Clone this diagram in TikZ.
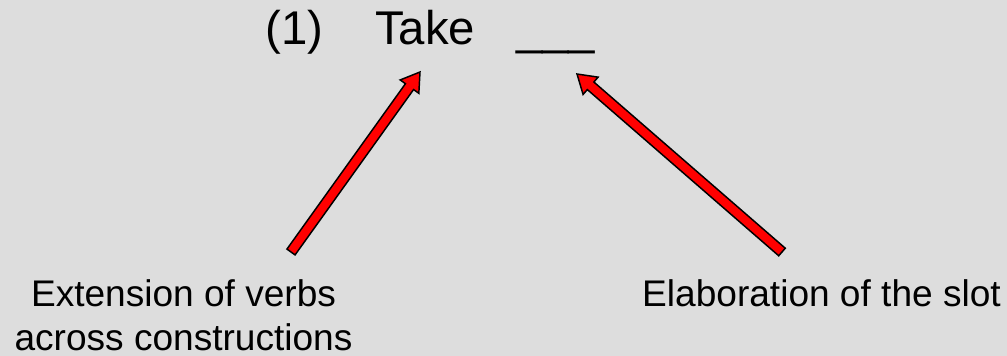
\documentclass[tikz,border=0pt]{standalone}
\usepackage{fontspec}
\setmainfont{Liberation Sans}
\usetikzlibrary{calc}
\definecolor{slidebg}{HTML}{DDDDDD}
\definecolor{arrowred}{HTML}{FF0000}
\tikzset{
  big/.style={inner sep=0pt, font=\fontsize{35.5}{40}\selectfont},
  small/.style={inner sep=0pt, font=\fontsize{27.8}{32}\selectfont},
  blockarrow/.style={fill=arrowred, draw=black, line width=1.1pt, line join=miter},
}
% block arrow from #1 (tail) to #2 (tip)
\newcommand{\blockarrowfromto}[2]{%
  \draw[blockarrow]
    ($(#1)!3.75pt!90:(#2)$) --
    ($($(#2)!13.5pt!(#1)$)!3.75pt!-90:(#1)$) --
    ($($(#2)!13.5pt!(#1)$)!8.6pt!-90:(#1)$) --
    (#2) --
    ($($(#2)!13.5pt!(#1)$)!8.6pt!90:(#1)$) --
    ($($(#2)!13.5pt!(#1)$)!3.75pt!90:(#1)$) --
    ($(#1)!3.75pt!-90:(#2)$) -- cycle;}
\begin{document}
\begin{tikzpicture}[x=0.75pt, y=-0.75pt]
  \fill[slidebg] (0,0) rectangle (1007,356);
  \useasboundingbox (0,0) rectangle (1007,356);

  % example line
  \node[big, anchor=base west] (num) at (265,45) {(1)};
  \node[big, anchor=base west] (take) at (375,45) {Take};
  \node[big, anchor=base west] (slot) at (516,45) {\_\_\_};

  % labels
  \node[small, anchor=base] (ext1) at (183.5,306) {Extension of verbs};
  \node[small, anchor=base] (ext2) at (183.5,350) {across constructions};
  \node[small, anchor=base] (elab) at (821.5,306) {Elaboration of the slot};

  % arrow end points
  \coordinate (ltail) at (291,252);
  \coordinate (ltip) at (420,72);
  \coordinate (rtail) at (782,252);
  \coordinate (rtip) at (577,74);

  \blockarrowfromto{ltail}{ltip}
  \blockarrowfromto{rtail}{rtip}
\end{tikzpicture}
\end{document}
